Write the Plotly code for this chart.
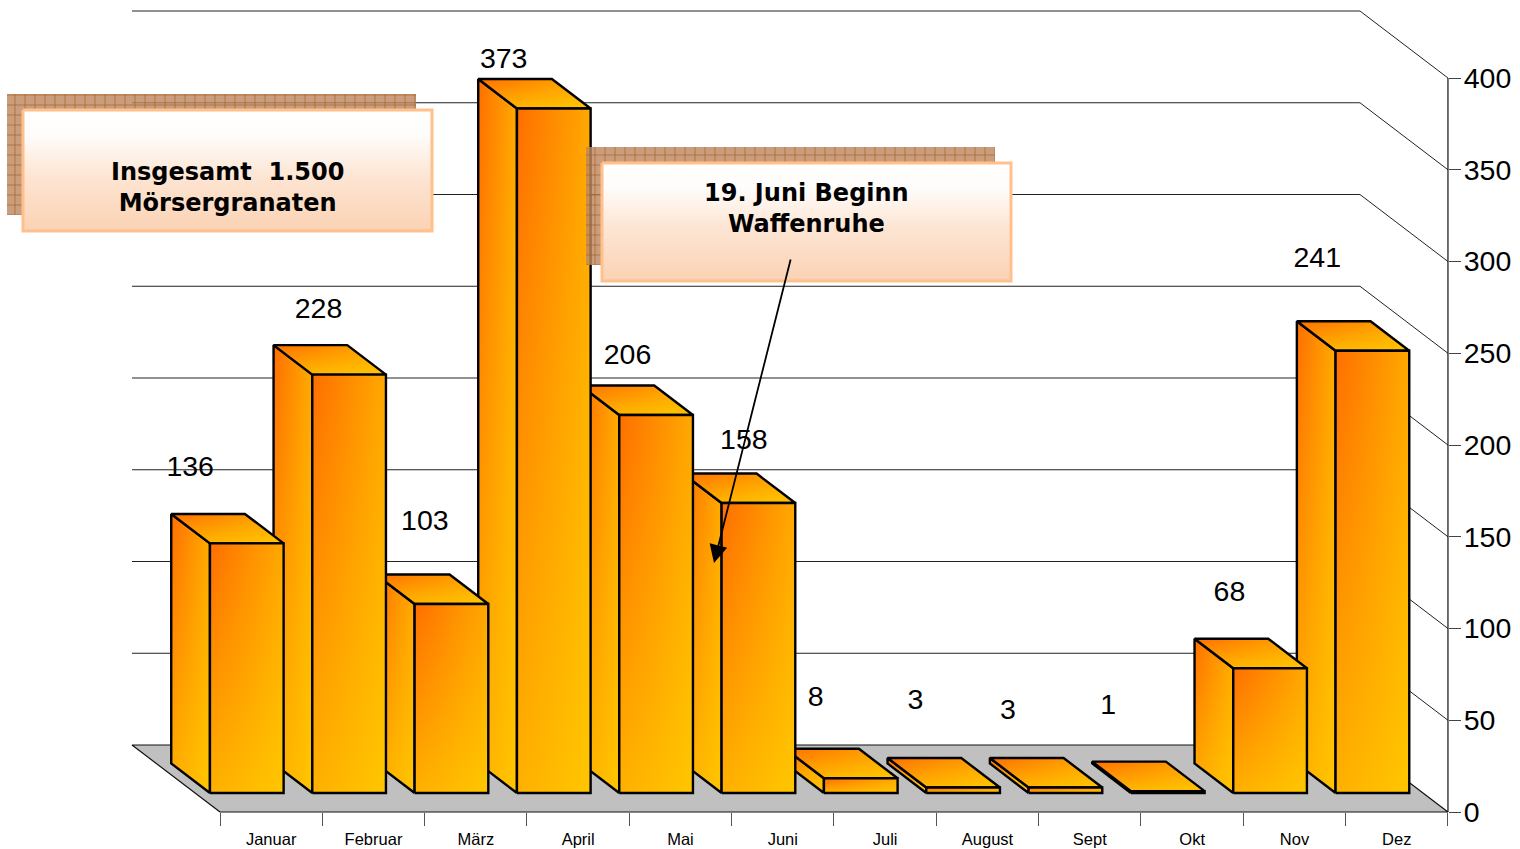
import plotly.graph_objects as go

# Monthly counts
months = ["Januar", "Februar", "März", "April", "Mai", "Juni", "Juli", "August", "Sept", "Okt", "Nov", "Dez"]
values = [136, 228, 103, 373, 206, 158, 8, 3, 3, 1, 68, 241]
value_ticks = [0, 50, 100, 150, 200, 250, 300, 350, 400]

# Pixel geometry of the page and the oblique projection
W, H = 1520, 849
X0_PX, SLOT_PX = 220.0, 102.33
Y0_PX, UNIT_PX = 812.0, 1.835
DEPTH_DX_PX, DEPTH_DY_PX = 88.0, 67.0
BAR_WIDTH = 0.72
BAR_SHIFT = 0.006
D_FRONT, D_BACK = 0.284, 0.724

# Hand placement of each value label, in pixels from the centre of the bar's front top edge
label_dx = [-56, -30, -26, -49.5, -28, -14, -44.5, -47, -57, -59, -40, -54.5]
label_dy = [74.5, 63.5, 81.5, 47.5, 58.5, 61.5, 79.5, 85.5, 75.5, 84.5, 74.5, 90.5]


def px_x(p):
    return (p - X0_PX) / SLOT_PX


def px_y(p):
    return (Y0_PX - p) / UNIT_PX


def proj(x, v, d):
    """Oblique projection of (slot position, value, depth) on to the two axes."""
    return x - d * DEPTH_DX_PX / SLOT_PX, v + d * DEPTH_DY_PX / UNIT_PX


def poly(points):
    pts = list(points) + [points[0]]
    return [p[0] for p in pts], [p[1] for p in pts]


fig = go.Figure()

# Floor
fx, fy = poly([proj(0, 0, 0), proj(12, 0, 0), proj(12, 0, 1), proj(0, 0, 1)])
fig.add_trace(go.Scatter(x=fx, y=fy, mode="lines", fill="toself", fillcolor="#C0C0C0",
                         line=dict(color="#111111", width=1.2), hoverinfo="skip"))

# Back wall gridlines with their slanted run down to the value axis
gx, gy = [], []
for t in value_ticks[1:]:
    for px_, py_ in (proj(0, t, 1), proj(12, t, 1), proj(12, t, 0)):
        gx.append(px_)
        gy.append(py_)
    gx.append(None)
    gy.append(None)
fig.add_trace(go.Scatter(x=gx, y=gy, mode="lines", line=dict(color="#222222", width=1), hoverinfo="skip"))

# Value axis line
fig.add_trace(go.Scatter(x=[12, 12], y=[0, value_ticks[-1]], mode="lines",
                         line=dict(color="#111111", width=1.2), hoverinfo="skip"))


def gradient_face(points):
    """A face shaded diagonally: a vertical ramp under a translucent horizontal one."""
    x, y = poly(points)
    fig.add_trace(go.Scatter(
        x=x, y=y, mode="lines", fill="toself", line=dict(width=0), hoverinfo="skip",
        fillgradient=dict(type="vertical", colorscale=[[0, "#FFB000"], [1, "#FF6E00"]])))
    fig.add_trace(go.Scatter(
        x=x, y=y, mode="lines", fill="toself", line=dict(color="#000000", width=2.4), hoverinfo="skip",
        fillgradient=dict(type="horizontal",
                          colorscale=[[0, "rgba(255,216,0,0)"], [1, "rgba(255,216,0,0.55)"]])))


# Bars run right to left so each one hides the side of its right-hand neighbour
for i in reversed(range(len(values))):
    v = values[i]
    left = i + 0.5 - BAR_WIDTH / 2 + BAR_SHIFT
    right = i + 0.5 + BAR_WIDTH / 2 + BAR_SHIFT
    gradient_face([proj(left, 0, D_FRONT), proj(left, v, D_FRONT), proj(left, v, D_BACK), proj(left, 0, D_BACK)])
    gradient_face([proj(left, v, D_FRONT), proj(right, v, D_FRONT), proj(right, v, D_BACK), proj(left, v, D_BACK)])
    gradient_face([proj(left, 0, D_FRONT), proj(right, 0, D_FRONT), proj(right, v, D_FRONT), proj(left, v, D_FRONT)])

# Value labels
lab_x, lab_y = [], []
for i, v in enumerate(values):
    cx, cy = proj(i + 0.5, v, D_FRONT)
    lab_x.append(cx + label_dx[i] / SLOT_PX)
    lab_y.append(cy + label_dy[i] / UNIT_PX)
fig.add_trace(go.Scatter(x=lab_x, y=lab_y, mode="text", text=[str(v) for v in values],
                         textposition="middle center", hoverinfo="skip",
                         textfont=dict(family="Liberation Sans", size=28.5, color="#000000")))


def callout(x0, y0, x1, y1, shadow, lines, text_y):
    # Hatched drop shadow
    s0, t0, s1, t1 = shadow
    sx, sy = poly([(px_x(s0), px_y(t0)), (px_x(s1), px_y(t0)), (px_x(s1), px_y(t1)), (px_x(s0), px_y(t1))])
    fig.add_trace(go.Scatter(x=sx, y=sy, mode="lines", fill="toself", line=dict(width=0), hoverinfo="skip",
                             fillcolor="rgba(0,0,0,0)",
                             fillpattern=dict(shape="+", size=10, solidity=0.12, fgcolor="#A05A1E",
                                              bgcolor="rgba(190,135,95,0.82)", fgopacity=1)))
    # Box
    bx, by = poly([(px_x(x0), px_y(y0)), (px_x(x1), px_y(y0)), (px_x(x1), px_y(y1)), (px_x(x0), px_y(y1))])
    fig.add_trace(go.Scatter(x=bx, y=by, mode="lines", fill="toself", hoverinfo="skip",
                             line=dict(color="#FFC08C", width=3),
                             fillgradient=dict(type="vertical", colorscale=[
                                 [0, "#FBD2B4"], [0.45, "#FDE5D3"], [0.8, "#FFFDFB"], [1, "#FFFFFF"]])))
    fig.add_annotation(x=px_x((x0 + x1) / 2), y=px_y(text_y), text="<br>".join(lines), showarrow=False,
                       xanchor="center", yanchor="middle", align="center",
                       font=dict(family="DejaVu Sans", size=24, color="#000000", weight="bold"))


callout(23, 110, 432, 231, (7, 94, 416, 215), ["Insgesamt\u00a0\u00a01.500", "Mörsergranaten"], 187.5)
callout(602, 163, 1011, 281, (586, 147, 995, 265), ["19. Juni Beginn", "Waffenruhe"], 208)

# Arrow from the ceasefire note to June
fig.add_annotation(x=px_x(714), y=px_y(563), ax=px_x(791), ay=px_y(258), axref="x", ayref="y",
                   xref="x", yref="y", text="", showarrow=True, arrowhead=2, arrowsize=2.0,
                   arrowwidth=1.8, arrowcolor="#000000", standoff=0, startstandoff=0)

fig.update_layout(
    width=W, height=H, margin=dict(l=0, r=0, t=0, b=0), autosize=False,
    paper_bgcolor="#FFFFFF", plot_bgcolor="#FFFFFF", showlegend=False,
    xaxis=dict(
        range=[px_x(0), px_x(W)], domain=[0, 1], anchor="free", position=(H - Y0_PX) / H,
        tickmode="array", tickvals=[i + 0.5 for i in range(12)], ticktext=months,
        ticks="", ticklen=0, showgrid=False, zeroline=False, showline=False,
        tickfont=dict(family="Liberation Sans", size=16.5, color="#000000"),
        ticklabelstandoff=15,
        minor=dict(tickmode="array", tickvals=list(range(13)), ticks="outside", ticklen=13,
                   tickcolor="#555555", tickwidth=1, showgrid=False),
    ),
    yaxis=dict(
        range=[px_y(H), px_y(0)], domain=[0, 1], anchor="free", position=1448 / W, side="right",
        tickmode="array", tickvals=value_ticks, ticks="outside", ticklen=12, tickcolor="#444444", tickwidth=1,
        ticklabelstandoff=-3,
        showgrid=False, zeroline=False, showline=False,
        tickfont=dict(family="Liberation Sans", size=28.5, color="#000000"),
    ),
)

fig.write_html("out.html")
